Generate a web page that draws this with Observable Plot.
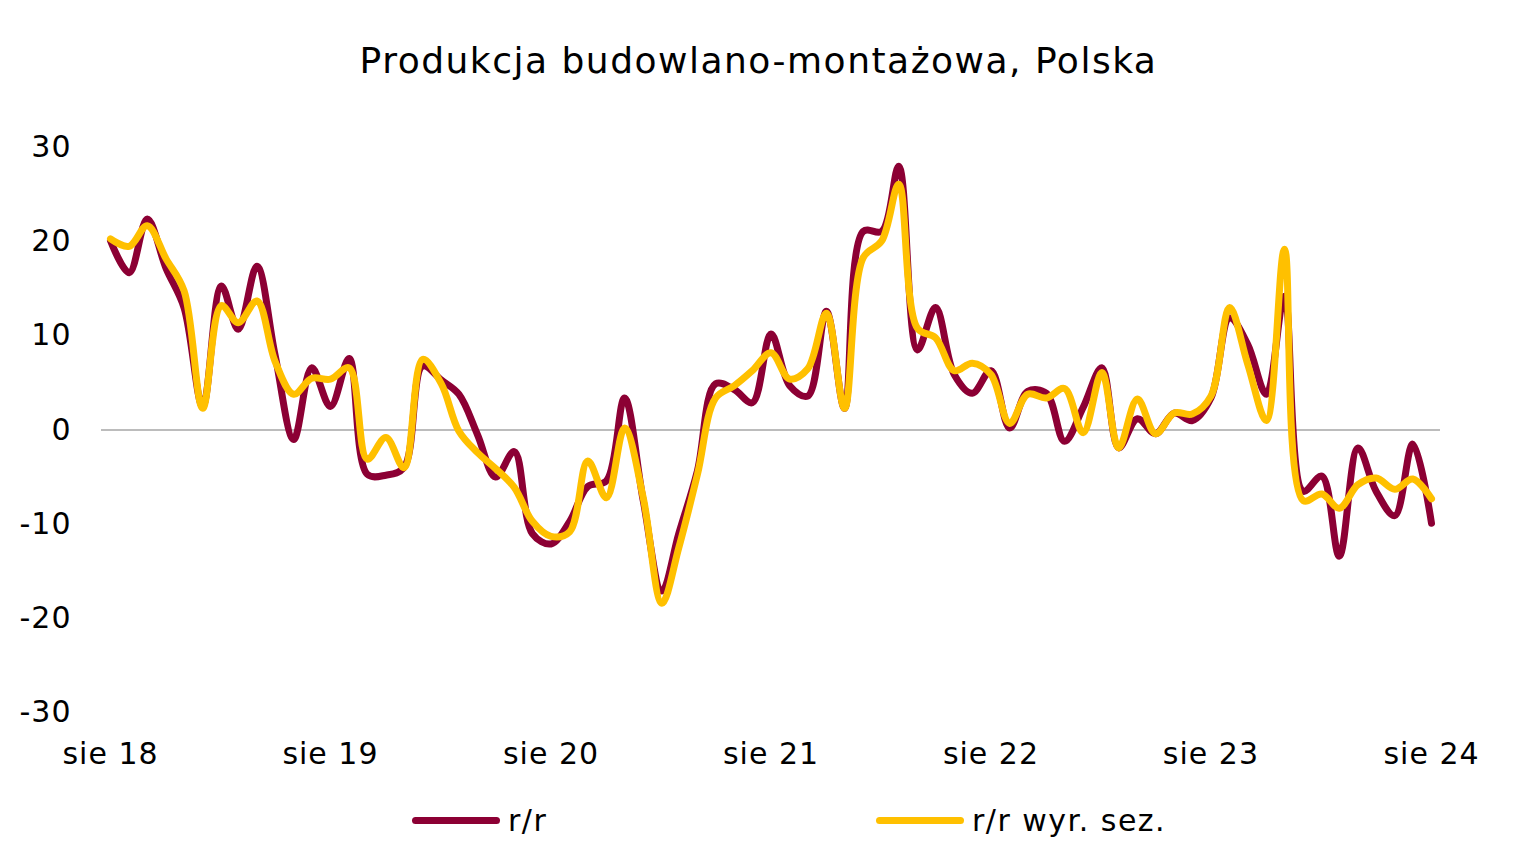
<!DOCTYPE html>
<html>
<head>
<meta charset="utf-8">
<script src="https://cdn.jsdelivr.net/npm/d3@7"></script>
<script src="https://cdn.jsdelivr.net/npm/@observablehq/plot@0.6"></script>
<style>
  html, body { margin: 0; padding: 0; background: #fff; }
  body { width: 1517px; height: 853px; overflow: hidden; font-family: "DejaVu Sans", Verdana, sans-serif; color: #000; }
  #title { height: 100px; text-align: center; font-size: 36px; letter-spacing: 1.5px; line-height: 122px; }
  #chart svg { display: block; }
  #chart svg text { letter-spacing: 1px; }
  #legend { position: absolute; top: 800px; left: 0; width: 1517px; height: 40px; font-size: 30px; letter-spacing: 1.5px; }
  .item { position: absolute; top: 0; display: flex; align-items: center; height: 40px; }
  .swatch { width: 88px; height: 7px; border-radius: 4px; margin-right: 8px; }
</style>
</head>
<body>
<div id="title">Produkcja budowlano-montażowa, Polska</div>
<div id="chart"></div>
<div id="legend"></div>
<script>
// Monthly categories: Aug 2018 .. Aug 2024
const months = d3.utcMonth.range(new Date(Date.UTC(2018, 7, 1)), new Date(Date.UTC(2024, 8, 1)));

const seriesNames = ["r/r", "r/r wyr. sez."];
const seriesColors = ["#8c0034", "#ffc000"];

// r/r (y/y), %
const rr = [
  20.1, 16.7, 22.4, 17.2, 13.0, 2.5, 15.3, 10.7, 17.4, 8.0,
  -1.0, 6.6, 2.5, 7.6, -4.7, -4.8, -4.0, 6.8, 5.3, 3.8,
  -0.5, -5.0, -2.3, -11.0, -12.1, -9.7, -6.0, -5.4, 3.4, -7.5,
  -17.1, -11.0, -4.3, 4.9, 4.3, 2.9, 10.2, 4.7, 3.6, 12.6,
  2.3, 21.1, 21.1, 28.0, 8.5, 13.0, 5.9, 3.9, 6.3, 0.2,
  4.1, 3.9, -1.2, 2.4, 6.6, -1.9, 1.2, -0.4, 1.8, 1.0,
  3.4, 11.9, 9.1, 3.8, 14.2, -6.5, -4.9, -13.4, -1.9, -6.5,
  -9.1, -1.5, -9.9
];

// r/r wyr. sez. (y/y seasonally adjusted), %
const rrSa = [
  20.3, 19.5, 21.7, 18.2, 14.8, 2.3, 13.2, 11.4, 13.7, 7.3,
  3.8, 5.5, 5.4, 6.6, -3.1, -0.8, -4.0, 7.5, 4.9, -0.1,
  -2.4, -4.1, -6.1, -9.7, -11.3, -10.8, -3.3, -7.2, 0.2, -7.2,
  -18.4, -12.5, -4.7, 3.4, 4.7, 6.3, 8.2, 5.4, 6.5, 12.4,
  2.3, 18.3, 20.1, 26.1, 10.8, 9.8, 6.3, 7.1, 5.9, 0.7,
  3.8, 3.4, 4.4, -0.3, 6.1, -1.9, 3.3, -0.4, 1.8, 1.7,
  3.6, 13.0, 7.0, 1.0, 19.2, -7.5, -6.8, -8.3, -5.8, -5.1,
  -6.3, -5.2, -7.3
];

const yTicks = [-30, -20, -10, 0, 10, 20, 30];
const xTickLabels = ["sie 18", "sie 19", "sie 20", "sie 21", "sie 22", "sie 23", "sie 24"];
const xTicks = xTickLabels.map((_, i) => new Date(Date.UTC(2018 + i, 7, 1)));
const xFmt = (d) => xTickLabels[xTicks.findIndex(t => +t === +d)];

const data = [];
months.forEach((d, i) => {
  data.push({date: d, value: rr[i], series: seriesNames[0]});
  data.push({date: d, value: rrSa[i], series: seriesNames[1]});
});

const chart = Plot.plot({
  width: 1517,
  height: 672,
  marginTop: 47,
  marginBottom: 60,
  marginLeft: 101,
  marginRight: 77,
  style: {fontFamily: "'DejaVu Sans', Verdana, sans-serif", fontSize: "30px", color: "#000", background: "#fff"},
  x: {type: "utc", domain: [months[0], months[months.length - 1]], inset: 9, label: null},
  y: {domain: [-30, 30], label: null},
  color: {domain: seriesNames, range: seriesColors},
  marks: [
    Plot.ruleY([0], {stroke: "#a6a6a6", strokeWidth: 1.3}),
    Plot.axisX({ticks: xTicks, tickFormat: xFmt, tickSize: 0, tickPadding: 30, fontSize: 30, fill: "#000", label: null}),
    Plot.axisY({ticks: yTicks, tickFormat: d => String(d), tickSize: 0, tickPadding: 30, fontSize: 30, fill: "#000", label: null}),
    Plot.lineY(data, {x: "date", y: "value", stroke: "series", z: "series", strokeWidth: 7, curve: "catmull-rom", strokeLinecap: "round", strokeLinejoin: "round"})
  ]
});
document.getElementById("chart").appendChild(chart);

// Legend
const legend = document.getElementById("legend");
const legendX = [412, 876];
seriesNames.forEach((name, i) => {
  const item = document.createElement("div");
  item.className = "item";
  item.style.left = legendX[i] + "px";
  const sw = document.createElement("div");
  sw.className = "swatch";
  sw.style.background = seriesColors[i];
  const label = document.createElement("span");
  label.textContent = name;
  item.appendChild(sw);
  item.appendChild(label);
  legend.appendChild(item);
});
</script>
</body>
</html>
